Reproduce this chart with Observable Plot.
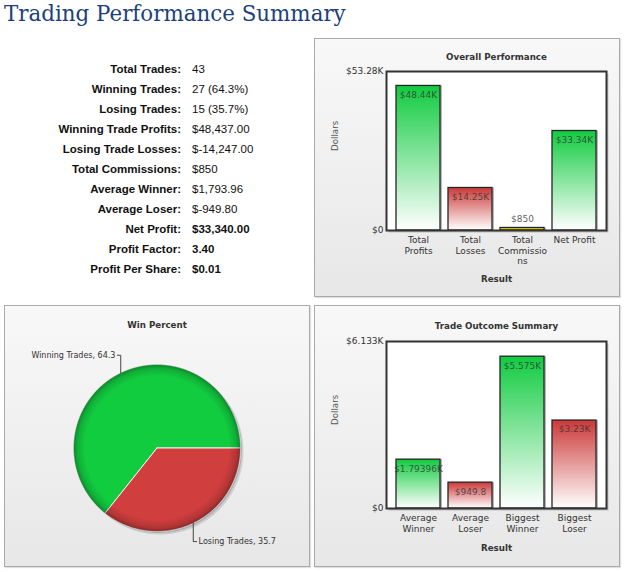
<!DOCTYPE html>
<html>
<head>
<meta charset="utf-8">
<script src="https://cdn.jsdelivr.net/npm/d3@7"></script>
<script src="https://cdn.jsdelivr.net/npm/@observablehq/plot@0.6"></script>
<style>
  html, body { margin: 0; padding: 0; background: #fff; }
  #page { position: relative; width: 625px; height: 572px; overflow: hidden; }
  .title { position: absolute; left: 4px; top: 0; font-family: "DejaVu Serif", serif; font-size: 21.4px; line-height: 28px; color: #203f7c; white-space: nowrap; }
  .stats { position: absolute; left: 0; top: 59px; display: grid; grid-template-columns: 181px auto; column-gap: 11px;
           font-family: "Liberation Sans", Arial, sans-serif; font-size: 11.5px; line-height: 20px; color: #111; white-space: nowrap; }
  .stats .k { text-align: right; font-weight: bold; }
  .stats .v.b { font-weight: bold; }
  .panel { position: absolute; box-sizing: border-box; border: 1px solid #aaa; background: linear-gradient(#f8f8f8, #e7e7e7); box-shadow: 1px 1px 1px rgba(0,0,0,0.12); }
  .chart { position: absolute; }
</style>
</head>
<body>
<div id="page"></div>
<script>
// ---- summary statistics ----
const statLabels = ["Total Trades", "Winning Trades", "Losing Trades", "Winning Trade Profits", "Losing Trade Losses",
  "Total Commissions", "Average Winner", "Average Loser", "Net Profit", "Profit Factor", "Profit Per Share"];
const statValues = ["43", "27 (64.3%)", "15 (35.7%)", "$48,437.00", "$-14,247.00",
  "$850", "$1,793.96", "$-949.80", "$33,340.00", "3.40", "$0.01"];

// ---- overall performance bars ----
const overallCategories = ["Total Profits", "Total Losses", "Total Commissions", "Net Profit"];
const overallTickLabels = ["Total\nProfits", "Total\nLosses", "Total\nCommissio\nns", "Net Profit"];
const overallValues = [48437, 14247, 850, 33340];
const overallKinds = ["gain", "loss", "fee", "gain"];

// ---- win percent pie ----
const winLabels = ["Winning Trades", "Losing Trades"];
const winShares = [64.3, 35.7];

// ---- trade outcome bars ----
const outcomeCategories = ["Average Winner", "Average Loser", "Biggest Winner", "Biggest Loser"];
const outcomeTickLabels = ["Average\nWinner", "Average\nLoser", "Biggest\nWinner", "Biggest\nLoser"];
const outcomeValues = [1793.96, 949.8, 5575, 3230];
const outcomeKinds = ["gain", "loss", "gain", "loss"];

const FONT = "DejaVu Sans";
const GREEN = "#10cb3f", RED = "#cc3838", GOLD = "#e2d000";
const PIE_GREEN = "#12cc40", PIE_RED = "#d03e3e";

const page = document.getElementById("page");

function el(tag, cls, parent) {
  const e = document.createElement(tag);
  if (cls) e.className = cls;
  (parent || page).appendChild(e);
  return e;
}
function place(e, b) {
  e.style.left = b.left + "px"; e.style.top = b.top + "px";
  e.style.width = b.width + "px"; e.style.height = b.height + "px";
}

// heading
el("div", "title").textContent = "Trading Performance Summary";

// statistics table
const stats = el("div", "stats");
const emphasized = new Set(["Net Profit", "Profit Factor", "Profit Per Share"]);
statLabels.forEach((lab, i) => {
  el("div", "k", stats).textContent = lab + ":";
  el("div", "v" + (emphasized.has(lab) ? " b" : ""), stats).textContent = statValues[i];
});

const baseStyle = { background: "transparent", fontFamily: FONT, fontSize: "9px", color: "#333", overflow: "visible" };

// "$48.44K" style value labels
const kLabel = digits => v => v >= 1000 ? "$" + (+(v / 1000).toFixed(digits)) + "K" : "$" + v;
// axis extremes, four significant digits
const tickLabel = v => v === 0 ? "$0" : "$" + (+v.toPrecision(4) / 1000) + "K";

function barChart({id, categories, tickLabels, values, kinds, title, digits, box, marginTop, marginBottom, titleDy, resultDy}) {
  const yMax = d3.max(values) * 1.1;
  const rows = categories.map((c, i) => ({category: c, value: values[i], kind: kinds[i], label: kLabel(digits)(values[i])}));
  const fills = {gain: `url(#${id}-gain)`, loss: `url(#${id}-loss)`, fee: `url(#${id}-fee)`};
  const defs = () => {
    const d = d3.create("svg:defs");
    const add = (name, top, bottom) => {
      const g = d.append("linearGradient").attr("id", `${id}-${name}`)
        .attr("x1", 0).attr("y1", 0).attr("x2", 0).attr("y2", 1);
      g.append("stop").attr("offset", "0%").attr("stop-color", top);
      g.append("stop").attr("offset", "100%").attr("stop-color", bottom);
    };
    add("gain", GREEN, "#ffffff");
    add("loss", RED, "#ffffff");
    add("fee", GOLD, GOLD);
    return d.node();
  };
  const inside = d => d.value / yMax > 0.1;
  return Plot.plot({
    width: box.width, height: box.height,
    marginLeft: 72, marginRight: 14, marginTop, marginBottom,
    style: baseStyle,
    x: {domain: categories, paddingInner: 0.16, paddingOuter: 0.18},
    y: {domain: [0, yMax]},
    color: {type: "identity"},
    marks: [
      defs,
      // soft shadow behind the plotting area, then its white face
      Plot.frame({fill: "#000", fillOpacity: 0.18, stroke: "none", dx: 2, dy: 2}),
      Plot.frame({fill: "white", stroke: "none"}),
      // bar shadows, then the bars
      Plot.barY(rows, {x: "category", y: "value", fill: "#000", fillOpacity: 0.28, dx: 2, dy: 0}),
      Plot.barY(rows, {x: "category", y: "value", fill: d => fills[d.kind], stroke: "#262626", strokeWidth: 1.3}),
      Plot.text(rows.filter(inside), {x: "category", y: "value", text: "label", dy: 9, fill: "#333", fillOpacity: 0.8, fontSize: 9}),
      Plot.text(rows.filter(d => !inside(d)), {x: "category", y: "value", text: "label", dy: -9, fill: "#333", fillOpacity: 0.8, fontSize: 9}),
      Plot.frame({stroke: "#333", strokeWidth: 2}),
      Plot.axisX({tickSize: 0, tickPadding: 5, tickFormat: c => tickLabels[categories.indexOf(c)], fontSize: 9, lineHeight: 1.17, label: null, fill: "#333"}),
      Plot.axisY({ticks: [0, yMax], tickSize: 0, tickPadding: 3, tickFormat: tickLabel, fontSize: 9, label: null, fill: "#333"}),
      Plot.text([title], {frameAnchor: "top", lineAnchor: "middle", dy: titleDy, fontWeight: "bold", fontSize: 8.7, fill: "#333"}),
      Plot.text(["Dollars"], {frameAnchor: "left", dx: -51, rotate: -90, fontSize: 8.7, fill: "#555"}),
      Plot.text(["Result"], {frameAnchor: "bottom", lineAnchor: "middle", dy: resultDy, fontWeight: "bold", fontSize: 8.7, fill: "#333"})
    ]
  });
}

function pieChart({box}) {
  const arcs = d3.pie().sort(null).startAngle(Math.PI / 2).endAngle(Math.PI / 2 - 2 * Math.PI)(winShares);
  const ring = (a0, a1) => {
    const n = Math.max(2, Math.ceil(Math.abs(a1 - a0) / 0.01));
    return d3.range(n + 1).map(k => { const a = a0 + (a1 - a0) * k / n; return {x: Math.sin(a), y: Math.cos(a)}; });
  };
  const slices = arcs.map((a, i) => [{x: 0, y: 0}, ...ring(a.startAngle, a.endAngle), {x: 0, y: 0}]
    .map(p => ({...p, slice: winLabels[i]})));
  const disc = ring(0, 2 * Math.PI);
  const labels = arcs.map((a, i) => {
    const m = (a.startAngle + a.endAngle) / 2;
    const x = Math.sin(m), y = Math.cos(m);
    const side = x < 0 ? -1 : 1;
    const ly = y + (y > 0 ? 0.21 : -0.22);
    return {id: i, x, y, ly, side, tx: x + side * 0.04, text: `${winLabels[i]}, ${winShares[i]}`};
  });
  const leaders = labels.flatMap(l => [
    {id: l.id, x: l.x, y: l.y}, {id: l.id, x: l.x, y: l.ly}, {id: l.id, x: l.tx, y: l.ly}
  ]);
  const defs = () => {
    const d = d3.create("svg:defs");
    const g = d.append("radialGradient").attr("id", "pie-rim");
    [[0, 0], [0.86, 0], [0.95, 0.14], [1, 0.34]].forEach(([o, a]) =>
      g.append("stop").attr("offset", o).attr("stop-color", "#000").attr("stop-opacity", a));
    return d.node();
  };
  const pieColors = [PIE_GREEN, PIE_RED];
  return Plot.plot({
    width: box.width, height: box.height,
    marginLeft: 69, marginRight: 70, marginTop: 59, marginBottom: 36,
    style: baseStyle,
    x: {domain: [-1, 1], axis: null},
    y: {domain: [-1, 1], axis: null},
    marks: [
      defs,
      Plot.line(disc, {x: "x", y: "y", fill: "#000", fillOpacity: 0.12, stroke: "none", dx: 3, dy: 3}),
      Plot.line(disc, {x: "x", y: "y", fill: "#000", fillOpacity: 0.15, stroke: "none", dx: 1.5, dy: 1.5}),
      ...slices.map((pts, i) => Plot.line(pts, {x: "x", y: "y", fill: pieColors[i], stroke: "#f4f4f4", strokeWidth: 1})),
      Plot.line(disc, {x: "x", y: "y", fill: "url(#pie-rim)", stroke: "none"}),
      Plot.line(leaders, {x: "x", y: "y", z: "id", stroke: "#444", strokeWidth: 1}),
      Plot.text(labels.filter(l => l.side < 0), {x: "tx", y: "ly", text: "text", textAnchor: "end", dx: -2, fontSize: 8, fill: "#333"}),
      Plot.text(labels.filter(l => l.side > 0), {x: "tx", y: "ly", text: "text", textAnchor: "start", dx: 2, fontSize: 8, fill: "#333"}),
      Plot.text(["Win Percent"], {frameAnchor: "top", lineAnchor: "middle", dy: -39, fontWeight: "bold", fontSize: 8.7, fill: "#333"})
    ]
  });
}

function mount(box, svg) {
  place(el("div", "panel"), box);
  svg.classList.add("chart");
  svg.style.left = box.left + "px";
  svg.style.top = box.top + "px";
  page.appendChild(svg);
}

const overallBox = {left: 314, top: 38, width: 306, height: 259};
const pieBox = {left: 4, top: 305, width: 306, height: 262};
const outcomeBox = {left: 314, top: 305, width: 306, height: 262};

mount(overallBox, barChart({
  id: "overall", categories: overallCategories, tickLabels: overallTickLabels, values: overallValues, kinds: overallKinds,
  title: "Overall Performance", digits: 2, box: overallBox, marginTop: 33, marginBottom: 67, titleDy: -14, resultDy: 49
}));
mount(pieBox, pieChart({box: pieBox}));
mount(outcomeBox, barChart({
  id: "outcome", categories: outcomeCategories, tickLabels: outcomeTickLabels, values: outcomeValues, kinds: outcomeKinds,
  title: "Trade Outcome Summary", digits: 5, box: outcomeBox, marginTop: 36, marginBottom: 59, titleDy: -15, resultDy: 40
}));
</script>
</body>
</html>
